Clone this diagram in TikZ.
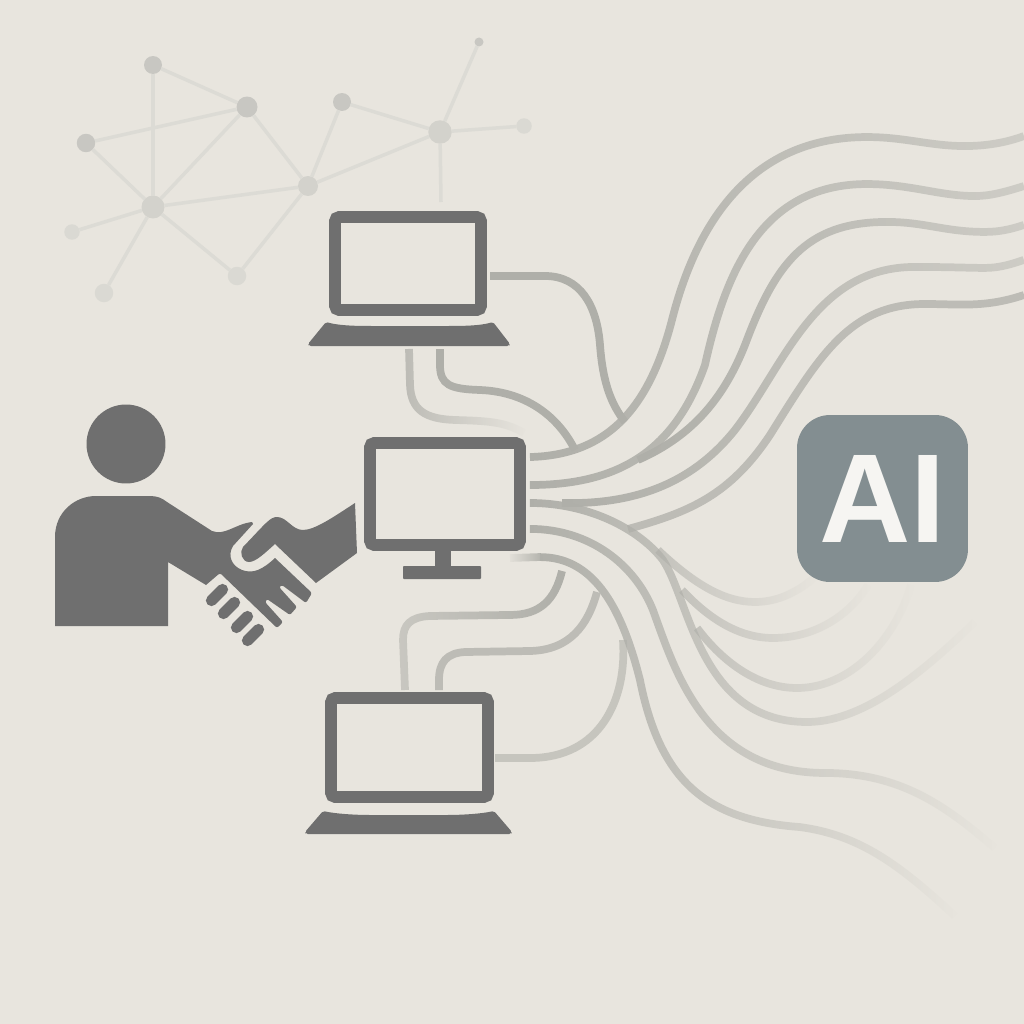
\documentclass[tikz,border=0pt]{standalone}
\usepackage{fontspec}
\setsansfont{Liberation Sans}
\usetikzlibrary{fadings}
\definecolor{paper}{HTML}{E8E5DE}
\definecolor{icongray}{HTML}{6F6F6F}
\definecolor{aigray}{HTML}{838E91}
\definecolor{wirecol}{HTML}{AFAFA9}
\definecolor{edgecol}{HTML}{DCDBD5}
\definecolor{dotA}{HTML}{C8C7C2}
\definecolor{dotB}{HTML}{D3D2CC}
\definecolor{dotC}{HTML}{DAD9D3}
\tikzfading[name=fade right, left color=transparent!0, middle color=transparent!0, right color=transparent!55]
\tikzfading[name=fade far, left color=transparent!0, middle color=transparent!15, right color=transparent!100]
\tikzfading[name=fade tail, left color=transparent!15, middle color=transparent!35, right color=transparent!100]
\tikzfading[name=fade both, left color=transparent!100, middle color=transparent!45, right color=transparent!100]
\tikzfading[name=fade left, left color=transparent!45, right color=transparent!0]

\begin{document}
\begin{tikzpicture}[x=0.02cm, y=-0.02cm,
    icon/.style={fill=icongray},
    screen/.style={draw=icongray, line width=6.8pt, rounded corners=2.5pt},
    wire/.style={draw=wirecol, line width=4.4pt},
    softwire/.style={wire, draw=wirecol!75!paper},
    dot/.style={circle, inner sep=0pt, outer sep=0pt, fill=#1},
    link/.style={draw=edgecol, line width=2pt}]
  \useasboundingbox (0,0) rectangle (1024,1024);
  \fill[paper] (0,0) rectangle (1024,1024);

  \node[dot=dotA, minimum size=0.36cm] (hubtop) at (153,65) {};
  \node[dot=dotA, minimum size=0.42cm] (hubmid) at (247,107) {};
  \node[dot=dotA, minimum size=0.37cm] (hubleft) at (86,143) {};
  \node[dot=dotB, minimum size=0.46cm] (hubmain) at (153,207) {};
  \node[dot=dotB, minimum size=0.40cm] (hubjoin) at (308,186) {};
  \node[dot=dotA, minimum size=0.36cm] (hubup) at (342,102) {};
  \node[dot=dotB, minimum size=0.47cm] (hubright) at (440,132) {};
  \node[dot=dotA, minimum size=0.18cm] (tipa) at (479,42) {};
  \node[dot=dotC, minimum size=0.31cm] (tipb) at (524,126) {};
  \node[dot=dotC, minimum size=0.31cm] (tipc) at (72,232) {};
  \node[dot=dotC, minimum size=0.37cm] (tipd) at (104,293) {};
  \node[dot=dotC, minimum size=0.37cm] (tipe) at (237,276) {};
  \coordinate (tipf) at (441,202);
  \foreach \a/\b in {hubtop/hubmain, hubtop/hubmid, hubleft/hubmid, hubleft/hubmain, hubmid/hubmain, hubmid/hubjoin, hubmain/hubjoin, hubmain/tipc, hubmain/tipd, hubmain/tipe, tipe/hubjoin, hubjoin/hubup, hubjoin/hubright, hubup/hubright, hubright/tipa, hubright/tipb, hubright/tipf}
    \draw[link] (\a) -- (\b);

  \coordinate (top east) at (490,276);
  \coordinate (top southa) at (409,349);
  \coordinate (top southb) at (440,349);
  \coordinate (mon a) at (530,457);
  \coordinate (mon b) at (530,485);
  \coordinate (mon c) at (530,503);
  \coordinate (mon d) at (530,529);
  \coordinate (low northa) at (405,690);
  \coordinate (low northb) at (439,690);
  \coordinate (low east) at (495,758);

  \draw[wire] (top east) -- (545,276) .. controls (580,276) and (597,305) .. (600,345) .. controls (603,385) and (612,405) .. (625,422);
  \draw[wire] (top southb) -- (440,365) .. controls (440,385) and (450,389) .. (480,390) .. controls (530,392) and (560,420) .. (575,450);
  \draw[softwire, path fading=fade far] (top southa) -- (410,385) .. controls (411,410) and (425,419) .. (455,420) .. controls (490,421) and (505,422) .. (524,433);

  \draw[wire, path fading=fade right] (638,460) .. controls (695,435) and (725,395) .. (745,345) .. controls (775,265) and (805,222) .. (887,222) .. controls (925,222) and (945,232) .. (985,232) .. controls (1000,232) and (1012,229) .. (1024,225);
  \draw[wire, path fading=fade right] (mon a) .. controls (610,455) and (650,405) .. (672,320) .. controls (700,210) and (760,137) .. (867,137) .. controls (905,137) and (930,146) .. (965,146) .. controls (985,146) and (1005,143) .. (1024,136);
  \draw[wire, path fading=fade right] (mon b) .. controls (620,485) and (675,450) .. (705,365) .. controls (725,275) and (760,184) .. (867,184) .. controls (910,184) and (940,196) .. (975,196) .. controls (990,196) and (1005,192) .. (1024,186);
  \draw[wire, path fading=fade right] (562,503) .. controls (640,505) and (695,480) .. (735,430) .. controls (785,365) and (815,267) .. (915,267) .. controls (950,267) and (970,268) .. (985,268) .. controls (1000,268) and (1012,264) .. (1024,260);
  \draw[softwire] (628,529) .. controls (690,512) and (730,495) .. (770,435) .. controls (820,355) and (850,304) .. (925,304) .. controls (960,304) and (985,308) .. (1024,295);

  \draw[softwire, path fading=fade tail] (658,550) .. controls (695,585) and (725,602) .. (755,602) .. controls (780,602) and (800,590) .. (815,577);
  \draw[softwire, path fading=fade tail] (682,590) .. controls (710,620) and (740,638) .. (773,638) .. controls (815,638) and (850,615) .. (868,585);
  \draw[softwire, path fading=fade tail] (697,628) .. controls (725,665) and (760,688) .. (797,688) .. controls (850,688) and (895,640) .. (911,585);
  \draw[softwire, path fading=fade both] (760,757) .. controls (850,760) and (915,740) .. (1005,648);
  \draw[softwire, draw=wirecol!60!paper] (623,640) .. controls (627,700) and (600,758) .. (530,758) -- (low east);

  \draw[wire, path fading=fade far] (mon c) .. controls (590,503) and (640,530) .. (663,560) .. controls (690,600) and (700,722) .. (807,722) .. controls (860,722) and (915,680) .. (975,622);
  \draw[wire, path fading=fade far] (mon d) .. controls (590,529) and (635,565) .. (653,610) .. controls (675,670) and (705,773) .. (825,773) .. controls (900,773) and (945,805) .. (995,848);
  \draw[wire, path fading=fade far] (540,557) .. controls (590,557) and (620,600) .. (640,680) .. controls (660,780) and (705,820) .. (800,827) .. controls (860,835) and (900,865) .. (955,916);
  \draw[wire, path fading=west] (510,558) -- (541,557);

  \draw[wire, path fading=fade left] (562,571) .. controls (555,600) and (540,615) .. (510,615) -- (430,616) .. controls (410,617) and (403,625) .. (403,640) -- (low northa);
  \draw[softwire] (597,592) .. controls (588,625) and (570,650) .. (530,651) -- (465,652) .. controls (447,653) and (439,662) .. (439,680) -- (low northb);

  \node[screen, minimum width=2.92cm, minimum height=1.86cm] (laptoptop) at (408,263.5) {};
  \fill[icon, rounded corners=1pt] (326,322) .. controls (340,326) and (360,326) .. (375,326) -- (445,326) .. controls (460,326) and (480,326) .. (493,322) -- (510,344) -- (509,346) -- (309,346) -- (308,344) -- cycle;

  \node[screen, minimum width=3cm, minimum height=2.04cm] (monitor) at (445,494) {};
  \fill[icon] (435,551) rectangle (451,567);
  \fill[icon, rounded corners=0.5pt] (403,566) rectangle (481,579);

  \node[screen, minimum width=3.14cm, minimum height=1.98cm] (laptoplow) at (409.5,747.5) {};
  \fill[icon, rounded corners=1pt] (323,811) .. controls (337,814) and (357,815) .. (372,815) -- (445,815) .. controls (460,815) and (480,814) .. (494,811) -- (512,832) -- (511,834) -- (306,834) -- (305,832) -- cycle;

  \node[fill=aigray, rounded corners=0.66cm, inner sep=0pt, minimum width=3.42cm, minimum height=3.34cm, text=paper!40!white, font=\sffamily\bfseries\fontsize{72}{72}\selectfont] (aibox) at (882.5,498.5) {\raisebox{-1pt}{AI}};

  \node[icon, circle, inner sep=0pt, minimum size=1.58cm] (head) at (126,444) {};
  \fill[icon] (55,626) -- (55,537) .. controls (55,512) and (75,496) .. (96,496) -- (150,496) .. controls (157,496) and (162,498) .. (167,502) -- (212,531) .. controls (225,536) and (235,524) .. (252,522) -- (253,524) -- (233,546) .. controls (227,556) and (232,566) .. (242,570) .. controls (253,574) and (262,570) .. (275,558) [rounded corners=1.2pt] -- (312,593) -- (306,603) -- (282,585) -- (279,587) -- (297,607) -- (290,615) -- (267,599) -- (265,602) -- (283,622) -- (277,628) -- (220,573) [sharp corners] -- (206,585) -- (168,562) -- (168,626) -- cycle;
  \fill[icon] (355,503) .. controls (335,516) and (315,530) .. (303,530) .. controls (292,530) and (287,517) .. (277,517) .. controls (270,517) and (266,523) .. (243,547) .. controls (239,552) and (242,562) .. (249,562) .. controls (256,562) and (266,552) .. (275,544) -- (316,583) -- (357,553) -- cycle;
  \foreach \fx/\fy in {217/595, 229/608, 242/622, 253/635}
    \draw[draw=icongray, line width=6.4pt, line cap=round] (\fx-5.5,\fy+5.5) -- (\fx+5.5,\fy-5.5);
\end{tikzpicture}
\end{document}
